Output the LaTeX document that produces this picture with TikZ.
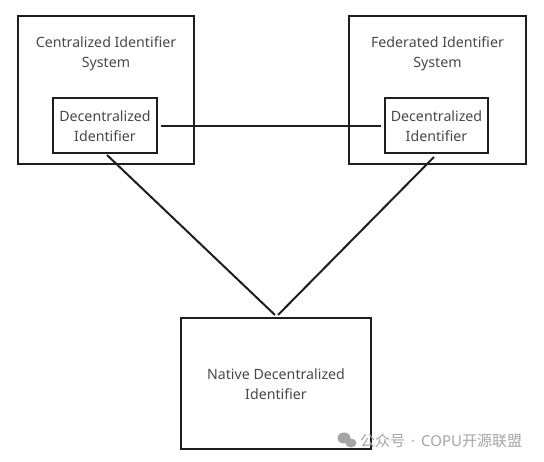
\documentclass[tikz,border=0pt]{standalone}
\usepackage{fontspec}
\setmainfont{Noto Sans}
\newfontfamily\cjkfont{Noto Sans CJK SC}
\definecolor{txt}{HTML}{484848}
\definecolor{ln}{HTML}{1E1E1E}
\definecolor{wm}{HTML}{A4A4A4}
\begin{document}
\begin{tikzpicture}[x=1pt,y=-1pt,
  box/.style={draw=ln,line width=2pt,minimum width=#1,inner sep=0pt},
  lbl/.style={text=txt,font=\fontsize{14.2}{20}\selectfont,align=center},
  conn/.style={draw=ln,line width=2pt}]
\useasboundingbox (0,0) rectangle (544,462);
% outer boxes
\node[box,minimum width=176pt,minimum height=148pt] (lo) at (106,90) {};
\node[box,minimum width=177pt,minimum height=148pt] (ro) at (437.5,90) {};
\node[lbl] (lot) at (106,53.5) {Centralized Identifier\\System};
\node[lbl] (rot) at (437.5,53.5) {Federated Identifier\\System};
% inner boxes
\node[box,minimum width=104pt,minimum height=55pt,lbl] (li) at (105,126) {Decentralized\\Identifier};
\node[box,minimum width=103pt,minimum height=55pt,lbl] (ri) at (436.5,126) {Decentralized\\Identifier};
% bottom box
\node[box,minimum width=190pt,minimum height=131pt,lbl] (nb) at (276,384) {Native Decentralized\\Identifier};
% connector ends
\coordinate (la) at (107,155);
\coordinate (ra) at (434,157);
\coordinate (lb) at (275,315);
\coordinate (rb) at (278,315);
\draw[conn,shorten <=3pt,shorten >=3pt] (li.east) -- (ri.west);
\draw[conn] (la) -- (lb);
\draw[conn] (ra) -- (rb);
% watermark
\node[text=wm,font=\fontsize{15}{17}\selectfont,anchor=west,inner sep=0pt] (wmt) at (360,441) {{\cjkfont 公众号}\hspace{6pt}·\hspace{6pt}COPU{\cjkfont 开源联盟}};
\fill[wm] (344,438) ellipse (6.5pt and 5.5pt);
\fill[wm] (351,443) ellipse (5.5pt and 4.5pt);
\end{tikzpicture}
\end{document}
